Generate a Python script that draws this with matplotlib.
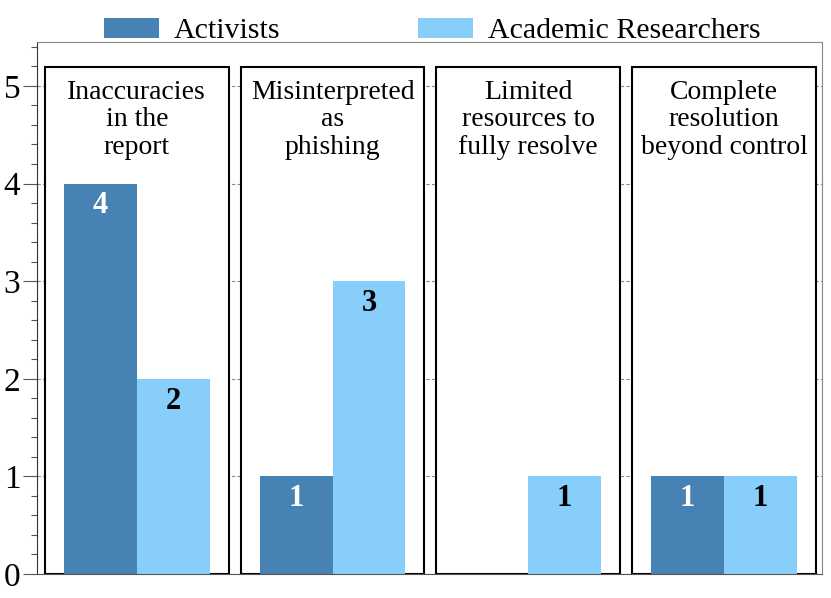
import numpy as np
import matplotlib.pyplot as plt
from matplotlib.patches import Rectangle

plt.rcParams['font.family'] = ['Liberation Serif', 'DejaVu Serif']

# data
categories = ["Inaccuracies\nin the\nreport",
              "Misinterpreted\nas\nphishing",
              "Limited\nresources to\nfully resolve",
              "Complete\nresolution\nbeyond control"]
activists = [4, 1, 0, 1]
researchers = [2, 3, 1, 1]
series = ["Activists", "Academic Researchers"]
colors = ["#4682B4", "#87CEFA"]

fig = plt.figure(figsize=(8.31, 5.98), dpi=100)
ax = fig.add_axes([0.0445, 0.0401, 0.989 - 0.0445, 0.9298 - 0.0401])

x = np.arange(len(categories))
w = 0.372
panel_half = 0.469
panel_top = 5.19

# grid behind panels
for yv in range(0, 6):
    ax.axhline(yv, color="#888888", lw=0.8, ls=(0, (3, 2)), zorder=0)

for i, c in enumerate(categories):
    ax.add_patch(Rectangle((x[i] - panel_half, 0), 2 * panel_half, panel_top,
                           facecolor="white", edgecolor="black", lw=1.5, zorder=1))
    ax.text(x[i], 5.06, c, ha="center", va="top", fontsize=20,
            linespacing=1.12, zorder=4)

b1 = ax.bar(x - w / 2, activists, w, color=colors[0], label=series[0], zorder=2)
b2 = ax.bar(x + w / 2, researchers, w, color=colors[1], label=series[1], zorder=2)

for i in range(len(categories)):
    if activists[i] > 0:
        ax.text(x[i] - w / 2, activists[i] - 0.23, str(activists[i]), ha="center",
                va="center", color="white", fontsize=22, fontweight="bold", zorder=3)
    if researchers[i] > 0:
        ax.text(x[i] + w / 2, researchers[i] - 0.23, str(researchers[i]), ha="center",
                va="center", color="black", fontsize=22, fontweight="bold", zorder=3)

ax.set_xlim(-0.51, 3.5)
ax.set_ylim(0, 5.45)
ax.set_xticks([])
ax.set_yticks(range(0, 6))
ax.set_yticks(np.arange(0, 5.45, 0.2), minor=True)
ax.tick_params(axis="y", which="major", length=10, width=0.8, color="#555555",
               labelsize=24, pad=2)
ax.tick_params(axis="y", which="minor", length=4, width=0.8, color="#555555")

for s in ["top", "right"]:
    ax.spines[s].set_color("#888888")
    ax.spines[s].set_linewidth(0.8)
ax.spines["left"].set_color("#333333")
ax.spines["bottom"].set_color("#555555")

fig.legend(handles=[b1, b2], labels=series, loc="upper center",
           bbox_to_anchor=(0.52, 1.015), ncol=2, frameon=False, fontsize=21.5,
           handlelength=1.85, handleheight=0.65, handletextpad=0.5,
           columnspacing=4.6)

fig.savefig("out.png", dpi=100)
